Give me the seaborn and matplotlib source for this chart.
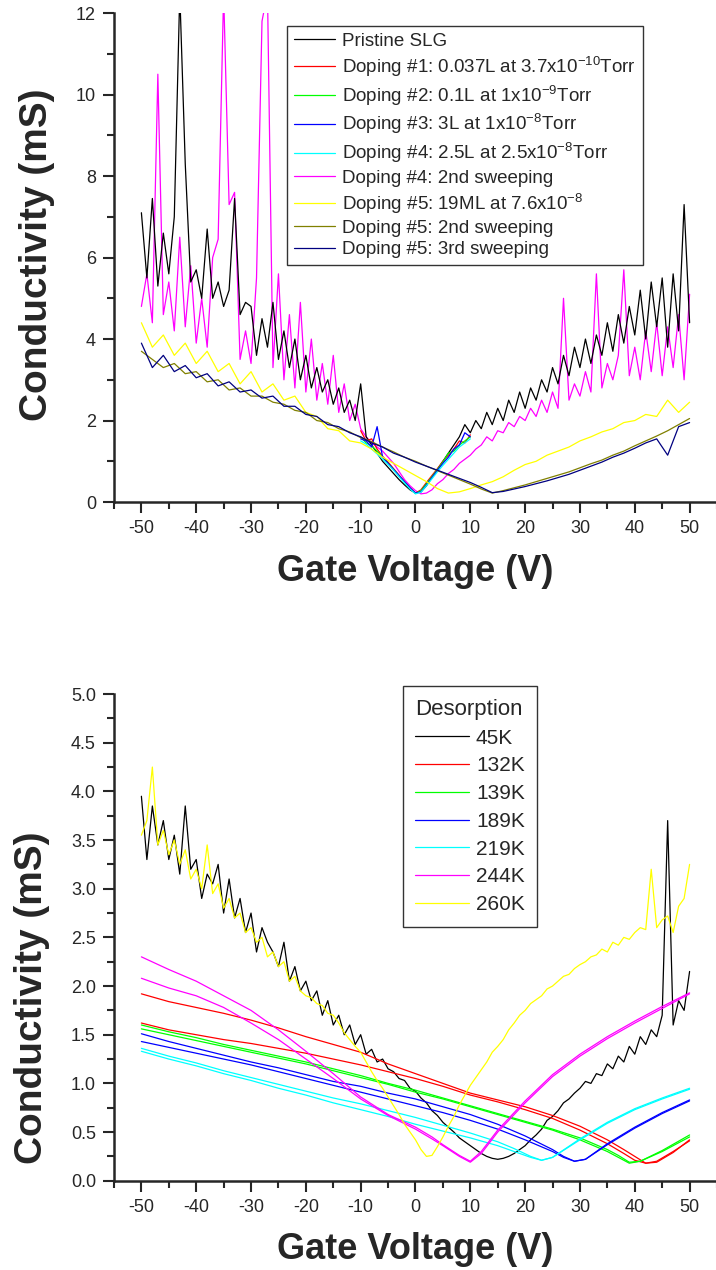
import numpy as np
import pandas as pd
import matplotlib
matplotlib.use("Agg")
import matplotlib.pyplot as plt
from matplotlib.ticker import MultipleLocator, FormatStrFormatter
import seaborn as sns

# ---------------- top panel: doping sweeps ----------------
v_fine = np.arange(-50, 51, 1)   # 1 V grid for the noisy sweeps
v_mid = np.arange(-50, 51, 2)    # 2 V grid for the #5 sweeps
v_dirac = np.arange(-10, 11, 1)  # doping #1-#4 were swept only in +-10 V

pristine = [7.1, 5.5, 7.45, 5.3, 6.6, 5.6, 7.0, 12.5, 8.3, 5.4,
            5.7, 5.0, 6.7, 5.0, 5.4, 4.8, 5.2, 7.45, 4.6, 4.9,
            4.8, 3.6, 4.5, 3.8, 4.9, 3.5, 4.2, 3.3, 4.0, 3.0,
            3.6, 2.8, 3.3, 2.7, 3.0, 2.4, 2.8, 2.2, 2.5, 2.0,
            2.9, 1.6, 1.4, 1.2, 1.0, 0.85, 0.7, 0.55, 0.42, 0.3,
            0.22, 0.25, 0.4, 0.6, 0.8, 1.0, 1.2, 1.4, 1.6, 1.9,
            1.7, 2.0, 1.8, 2.2, 1.9, 2.3, 2.0, 2.5, 2.2, 2.7,
            2.3, 2.8, 2.5, 3.0, 2.7, 3.3, 2.9, 3.6, 3.1, 3.8,
            3.3, 4.0, 3.4, 4.1, 3.6, 4.4, 3.7, 4.6, 3.9, 4.8,
            4.1, 5.2, 4.0, 5.4, 4.3, 5.5, 3.8, 5.6, 4.2, 7.3,
            4.4]
dop4_2nd = [4.8, 5.6, 4.4, 10.5, 4.6, 5.4, 4.2, 6.5, 4.3, 5.8,
            3.9, 5.0, 3.8, 6.0, 6.45, 12.5, 7.3, 7.6, 3.5, 4.2,
            3.4, 5.5, 11.8, 12.5, 3.3, 5.6, 3.0, 4.6, 2.8, 4.9,
            2.7, 4.0, 2.5, 3.4, 2.4, 3.6, 2.2, 2.9, 2.0, 2.4,
            1.8, 1.6, 1.45, 1.35, 1.25, 1.1, 0.95, 0.75, 0.55, 0.4,
            0.28, 0.2, 0.22, 0.3, 0.45, 0.55, 0.7, 0.8, 0.95, 1.05,
            1.15, 1.3, 1.4, 1.6, 1.5, 1.75, 1.7, 1.95, 1.85, 2.1,
            2.0, 2.3, 2.1, 2.5, 2.2, 2.7, 2.3, 5.0, 2.5, 2.9,
            2.6, 3.2, 2.7, 5.6, 2.8, 3.4, 3.0, 3.6, 5.7, 3.1,
            3.8, 3.0, 4.2, 3.2, 4.4, 3.1, 4.3, 3.3, 4.6, 3.0,
            5.1]
dop1 = [1.75, 1.5, 1.55, 1.3, 1.12, 0.98, 0.82, 0.66, 0.5, 0.35, 0.22,
        0.3, 0.48, 0.65, 0.82, 1.0, 1.15, 1.3, 1.5, 1.45, 1.65]
dop2 = [1.6, 1.45, 1.38, 1.25, 1.1, 0.95, 0.8, 0.64, 0.48, 0.33, 0.21,
        0.28, 0.45, 0.62, 0.8, 0.98, 1.2, 1.25, 1.4, 1.5, 1.6]
dop3 = [1.55, 1.5, 1.35, 1.85, 1.1, 0.95, 0.8, 0.65, 0.5, 0.35, 0.22,
        0.25, 0.42, 0.6, 0.78, 0.95, 1.1, 1.3, 1.4, 1.7, 1.6]
dop4 = [1.5, 1.42, 1.3, 1.18, 1.05, 0.92, 0.78, 0.62, 0.47, 0.32, 0.2,
        0.24, 0.4, 0.57, 0.74, 0.9, 1.05, 1.2, 1.35, 1.45, 1.55]
dop5 = [4.4, 3.8, 4.1, 3.6, 3.9, 3.4, 3.7, 3.2, 3.4, 2.9,
        3.2, 2.7, 2.9, 2.5, 2.6, 2.2, 2.1, 1.8, 1.75, 1.5,
        1.45, 1.3, 1.1, 0.95, 0.8, 0.65, 0.5, 0.33, 0.22, 0.25,
        0.33, 0.42, 0.5, 0.62, 0.78, 0.92, 1.0, 1.15, 1.25, 1.35,
        1.5, 1.6, 1.72, 1.8, 1.95, 2.0, 2.15, 2.1, 2.5, 2.2,
        2.45]
dop5_2nd = [3.7, 3.5, 3.3, 3.4, 3.15, 3.2, 2.95, 3.0, 2.75, 2.8,
            2.6, 2.6, 2.45, 2.4, 2.25, 2.2, 2.0, 1.95, 1.8, 1.72,
            1.58, 1.48, 1.35, 1.23, 1.1, 1.0, 0.88, 0.77, 0.66, 0.55,
            0.44, 0.32, 0.22, 0.28, 0.35, 0.42, 0.5, 0.58, 0.66, 0.74,
            0.84, 0.94, 1.03, 1.15, 1.25, 1.38, 1.5, 1.62, 1.75, 1.9,
            2.05]
dop5_3rd = [3.9, 3.3, 3.6, 3.2, 3.35, 3.05, 3.15, 2.85, 2.95, 2.7,
            2.75, 2.55, 2.6, 2.35, 2.35, 2.15, 2.1, 1.9, 1.85, 1.7,
            1.6, 1.45, 1.35, 1.2, 1.1, 0.98, 0.88, 0.78, 0.68, 0.58,
            0.48, 0.36, 0.23, 0.26, 0.32, 0.38, 0.45, 0.52, 0.6, 0.68,
            0.78, 0.88, 0.98, 1.1, 1.2, 1.32, 1.45, 1.55, 1.15, 1.85,
            1.95]

top_labels = ["Pristine SLG",
              r"Doping #1: 0.037L at 3.7x10$^{\mathregular{-10}}$Torr",
              r"Doping #2: 0.1L at 1x10$^{\mathregular{-9}}$Torr",
              r"Doping #3: 3L at 1x10$^{\mathregular{-8}}$Torr",
              r"Doping #4: 2.5L at 2.5x10$^{\mathregular{-8}}$Torr",
              "Doping #4: 2nd sweeping",
              r"Doping #5: 19ML at 7.6x10$^{\mathregular{-8}}$",
              "Doping #5: 2nd sweeping",
              "Doping #5: 3rd sweeping"]

# ---------------- bottom panel: desorption sweeps ----------------
k45 = [3.95, 3.3, 3.85, 3.45, 3.7, 3.3, 3.55, 3.15, 3.85, 3.2,
       3.3, 2.9, 3.15, 3.05, 3.25, 2.75, 3.1, 2.7, 2.9, 2.55,
       2.75, 2.35, 2.6, 2.45, 2.35, 2.2, 2.45, 2.05, 2.2, 1.95,
       2.05, 1.85, 1.95, 1.7, 1.85, 1.6, 1.7, 1.5, 1.6, 1.4,
       1.5, 1.3, 1.35, 1.22, 1.25, 1.15, 1.12, 1.05, 1.03, 0.95,
       0.92, 0.85, 0.8, 0.72, 0.67, 0.6, 0.55, 0.5, 0.44, 0.4,
       0.36, 0.32, 0.28, 0.25, 0.23, 0.22, 0.23, 0.25, 0.28, 0.32,
       0.36, 0.42, 0.47, 0.53, 0.62, 0.66, 0.72, 0.8, 0.84, 0.9,
       0.95, 1.02, 1.0, 1.1, 1.08, 1.2, 1.15, 1.28, 1.22, 1.38,
       1.3, 1.48, 1.4, 1.55, 1.48, 1.7, 3.7, 1.6, 1.85, 1.75,
       2.15]
k260 = [3.55, 3.7, 4.25, 3.45, 3.6, 3.35, 3.5, 3.25, 3.4, 3.1,
        3.2, 3.0, 3.45, 2.95, 3.05, 2.8, 2.9, 2.7, 2.75, 2.55,
        2.6, 2.45, 2.5, 2.3, 2.35, 2.2, 2.25, 2.05, 2.1, 1.95,
        1.9, 1.88, 1.82, 1.8, 1.72, 1.7, 1.62, 1.52, 1.45, 1.38,
        1.32, 1.22, 1.12, 1.03, 0.95, 0.86, 0.77, 0.68, 0.58, 0.5,
        0.42, 0.32, 0.25, 0.26, 0.35, 0.45, 0.56, 0.66, 0.78, 0.88,
        0.98, 1.06, 1.14, 1.22, 1.32, 1.38, 1.45, 1.55, 1.62, 1.7,
        1.75, 1.82, 1.86, 1.9, 1.97, 2.0, 2.05, 2.1, 2.12, 2.18,
        2.22, 2.25, 2.3, 2.32, 2.38, 2.35, 2.45, 2.42, 2.5, 2.48,
        2.55, 2.6, 2.58, 3.2, 2.6, 2.68, 2.72, 2.55, 2.82, 2.9,
        3.25]

v_132 = [-50, -45, -40, -35, -30, -25, -20, -15, -10, -5, 0, 5, 10, 15, 20, 25, 30, 35, 38, 40, 42, 44, 47, 50]
k132_a = [1.92, 1.84, 1.78, 1.72, 1.65, 1.57, 1.48, 1.4, 1.32, 1.2, 1.1, 1.0, 0.9, 0.83, 0.76, 0.67, 0.56, 0.42, 0.32, 0.25, 0.18, 0.19, 0.29, 0.42]
k132_b = [1.62, 1.55, 1.5, 1.45, 1.41, 1.36, 1.31, 1.25, 1.19, 1.12, 1.05, 0.97, 0.88, 0.81, 0.73, 0.64, 0.52, 0.38, 0.28, 0.21, 0.18, 0.2, 0.3, 0.41]
v_139 = [-50, -45, -40, -35, -30, -25, -20, -15, -10, -5, 0, 5, 10, 15, 20, 25, 30, 35, 37, 39, 41, 45, 50]
k139_a = [1.6, 1.53, 1.47, 1.4, 1.34, 1.28, 1.22, 1.15, 1.08, 1.0, 0.93, 0.85, 0.77, 0.69, 0.61, 0.53, 0.44, 0.32, 0.26, 0.19, 0.2, 0.31, 0.47]
k139_b = [1.56, 1.5, 1.44, 1.38, 1.32, 1.26, 1.2, 1.13, 1.06, 0.99, 0.91, 0.84, 0.76, 0.68, 0.6, 0.52, 0.42, 0.3, 0.24, 0.18, 0.2, 0.3, 0.45]
v_189 = [-50, -45, -40, -35, -30, -25, -20, -15, -10, -5, 0, 5, 10, 15, 20, 25, 27, 29, 31, 35, 40, 45, 50]
k189_a = [1.51, 1.43, 1.36, 1.29, 1.22, 1.16, 1.09, 1.02, 0.97, 0.9, 0.84, 0.76, 0.68, 0.58, 0.46, 0.32, 0.25, 0.2, 0.22, 0.38, 0.55, 0.7, 0.83]
k189_b = [1.43, 1.37, 1.31, 1.25, 1.19, 1.12, 1.05, 0.98, 0.91, 0.84, 0.77, 0.7, 0.62, 0.53, 0.42, 0.3, 0.24, 0.2, 0.22, 0.37, 0.54, 0.69, 0.82]
v_219 = [-50, -45, -40, -35, -30, -25, -20, -15, -10, -5, 0, 5, 10, 15, 18, 21, 23, 25, 30, 35, 40, 45, 50]
k219_a = [1.36, 1.28, 1.21, 1.13, 1.06, 0.99, 0.92, 0.85, 0.79, 0.72, 0.65, 0.57, 0.49, 0.4, 0.33, 0.25, 0.21, 0.24, 0.43, 0.6, 0.74, 0.85, 0.95]
k219_b = [1.33, 1.25, 1.18, 1.1, 1.03, 0.95, 0.88, 0.8, 0.73, 0.66, 0.58, 0.51, 0.44, 0.36, 0.3, 0.24, 0.21, 0.24, 0.42, 0.59, 0.73, 0.84, 0.94]
v_244 = [-50, -45, -40, -35, -30, -25, -20, -15, -10, -5, 0, 3, 5, 8, 10, 12, 15, 20, 25, 30, 35, 40, 45, 50]
k244_a = [2.3, 2.17, 2.05, 1.9, 1.75, 1.55, 1.33, 1.1, 0.86, 0.68, 0.55, 0.45, 0.37, 0.26, 0.2, 0.3, 0.52, 0.82, 1.09, 1.3, 1.48, 1.64, 1.79, 1.93]
k244_b = [2.08, 1.98, 1.9, 1.78, 1.62, 1.45, 1.25, 1.05, 0.84, 0.67, 0.53, 0.43, 0.36, 0.25, 0.19, 0.28, 0.5, 0.8, 1.07, 1.28, 1.46, 1.62, 1.77, 1.92]

bottom_labels = ["45K", "132K", "139K", "189K", "219K", "244K", "260K"]

RED, GREEN, BLUE, CYAN = "#ff0000", "#00ff00", "#0000ff", "#00ffff"
MAGENTA, YELLOW, OLIVE, NAVY = "#ff00ff", "#ffff00", "#808000", "#000080"

sns.set_style("ticks")
plt.rcParams["font.family"] = ["Liberation Sans", "DejaVu Sans"]
plt.rcParams["mathtext.fontset"] = "custom"
plt.rcParams["mathtext.rm"] = "Liberation Sans"
plt.rcParams["axes.unicode_minus"] = False

fig = plt.figure(figsize=(7.16, 12.7), dpi=100)
ax1 = fig.add_axes([0.1592, 0.6047, 0.8422, 0.3850])
ax2 = fig.add_axes([0.1592, 0.0703, 0.8422, 0.3832])


def draw(ax, x, y, color, lw=0.9):
    sns.lineplot(x=np.asarray(x), y=np.asarray(y), ax=ax, color=color, lw=lw,
                 estimator=None, errorbar=None, sort=False, legend=False)
    return ax.get_lines()[-1]


# top panel: draw order differs from legend order
h = {}
h[5] = draw(ax1, v_fine, dop4_2nd, MAGENTA)
h[0] = draw(ax1, v_fine, pristine, "black")
h[1] = draw(ax1, v_dirac, dop1, RED)
h[2] = draw(ax1, v_dirac, dop2, GREEN)
h[3] = draw(ax1, v_dirac, dop3, BLUE)
h[4] = draw(ax1, v_dirac, dop4, CYAN)
h[6] = draw(ax1, v_mid, dop5, YELLOW)
h[7] = draw(ax1, v_mid, dop5_2nd, OLIVE)
h[8] = draw(ax1, v_mid, dop5_3rd, NAVY)

# bottom panel, two sweeps per temperature
g = []
g.append(draw(ax2, v_fine, k45, "black"))
for xv, ya, yb, c in [(v_132, k132_a, k132_b, RED), (v_139, k139_a, k139_b, GREEN),
                      (v_189, k189_a, k189_b, BLUE), (v_219, k219_a, k219_b, CYAN),
                      (v_244, k244_a, k244_b, MAGENTA)]:
    g.append(draw(ax2, xv, ya, c))
    draw(ax2, xv, yb, c)
g.append(draw(ax2, v_fine, k260, YELLOW))

for ax in (ax1, ax2):
    ax.set_xlim(-55, 55)
    ax.set_xticks(np.arange(-50, 51, 10))
    ax.xaxis.set_minor_locator(MultipleLocator(5))
    ax.tick_params(which="both", direction="out", width=1.5, labelsize=13)
    ax.tick_params(which="major", length=8, pad=5)
    ax.tick_params(which="minor", length=5)
    for side in ("top", "right"):
        ax.spines[side].set_visible(False)
    for side in ("left", "bottom"):
        ax.spines[side].set_linewidth(1.8)
    ax.set_ylabel("Conductivity (mS)", fontsize=28, fontweight="bold", labelpad=15)
    ax.set_xlabel("Gate Voltage (V)", fontsize=26, fontweight="bold", labelpad=12)

ax1.set_ylim(0, 12)
ax1.set_yticks(range(0, 13, 2))
ax1.yaxis.set_minor_locator(MultipleLocator(1))
ax1.yaxis.label.set_y(0.505)

ax2.set_ylim(0, 5)
ax2.yaxis.set_major_locator(MultipleLocator(0.5))
ax2.yaxis.set_minor_locator(MultipleLocator(0.25))
ax2.yaxis.set_major_formatter(FormatStrFormatter("%.1f"))
ax2.yaxis.label.set_y(0.375)

leg1 = ax1.legend([h[i] for i in range(9)], top_labels, loc="upper left",
                  bbox_to_anchor=(0.401, 0.9795), bbox_transform=fig.transFigure,
                  fontsize=13.5, frameon=True, fancybox=False, borderaxespad=0,
                  handlelength=2.2, handletextpad=0.4, labelspacing=0.22,
                  borderpad=0.35)
leg1.get_frame().set_edgecolor("black")
leg1.get_frame().set_linewidth(1.0)

leg2 = ax2.legend(g, bottom_labels, title="Desorption", loc="upper left",
                  bbox_to_anchor=(0.5628, 0.4595), bbox_transform=fig.transFigure,
                  fontsize=15, title_fontsize=16, alignment="left",
                  frameon=True, fancybox=False, borderaxespad=0,
                  handlelength=2.55, handletextpad=0.35, labelspacing=0.42,
                  borderpad=0.6)
leg2.get_frame().set_edgecolor("black")
leg2.get_frame().set_linewidth(1.0)

fig.savefig("out.png", dpi=100)
